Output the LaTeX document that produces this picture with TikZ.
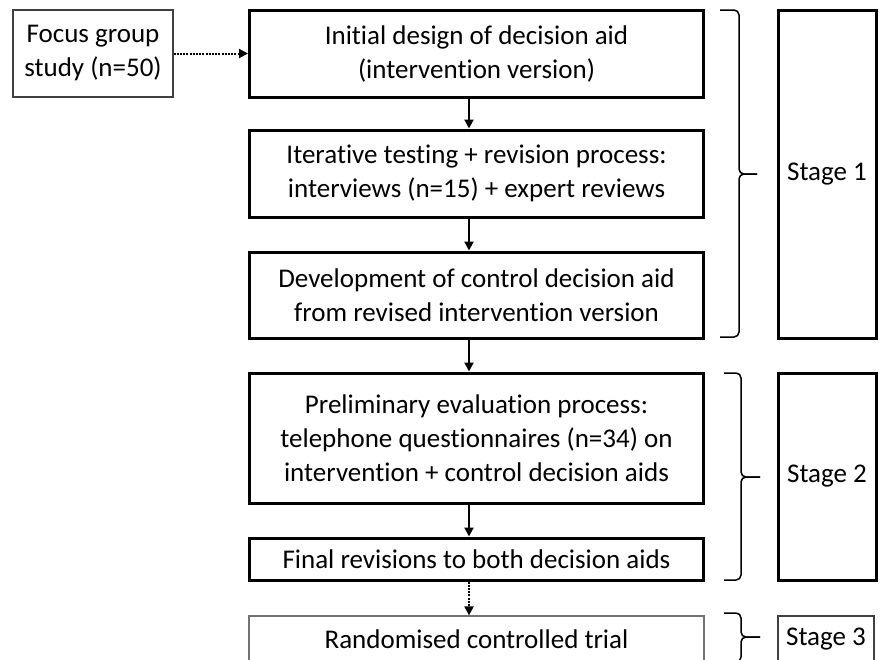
\documentclass[tikz,border=0pt]{standalone}
\usepackage{fontspec}
\setmainfont{Carlito}[Ligatures={NoCommon}]
\usetikzlibrary{arrows.meta}
\begin{document}
\begin{tikzpicture}[x=1pt,y=-1pt,
  txt/.style={font=\fontsize{27}{34}\selectfont, align=center, inner sep=0pt, rectangle},
  thickbox/.style={txt, draw=black, line width=3pt},
  thinbox/.style={txt, draw=black!75, line width=1.2pt},
  flow/.style={line width=2pt, -{Triangle[length=9pt,width=9pt]}},
  dflow/.style={flow, dash pattern=on 2pt off 1.2pt},
  bracepath/.style={line width=1.5pt, rounded corners=5pt},
]
\useasboundingbox (0,0) rectangle (883,659);
\clip (0,0) rectangle (883,659);
\coordinate (ax) at (469,0);

\node[thinbox, minimum width=160pt, minimum height=87pt] (focus) at (93,53.5) {Focus group\\study (n=50)};
\node[thickbox, minimum width=454pt, minimum height=87pt] (b1) at (476.5,53.5) {Initial design of decision aid\\(intervention version)};
\node[thickbox, minimum width=454pt, minimum height=87pt] (b2) at (476.5,173.5) {Iterative testing + revision process:\\interviews (n=15) + expert reviews};
\node[thickbox, minimum width=454pt, minimum height=86pt] (b3) at (476.5,295) {Development of control decision aid\\from revised intervention version};
\node[thickbox, minimum width=454pt, minimum height=130pt] (b4) at (476.5,438) {Preliminary evaluation process:\\telephone questionnaires (n=34) on\\intervention + control decision aids};
\node[thickbox, minimum width=454pt, minimum height=42pt] (b5) at (476.5,559) {Final revisions to both decision aids};
\node[thinbox, draw=black!55, minimum width=455pt, minimum height=46pt] (b6) at (476.5,639) {Randomised controlled trial};

\node[thickbox, minimum width=98pt, minimum height=328pt] (s1) at (827,174) {Stage 1};
\node[thickbox, minimum width=98pt, minimum height=207pt] (s2) at (827,476.5) {Stage 2};
\node[thinbox, minimum width=96pt, minimum height=46pt] (s3) at (826,639) {Stage 3};

\draw[dflow] (focus.east) -- (b1.west);
\draw[flow] (b1.south -| ax) -- (b2.north -| ax);
\draw[flow] (b2.south -| ax) -- (b3.north -| ax);
\draw[flow] (b3.south -| ax) -- (b4.north -| ax);
\draw[flow] (b4.south -| ax) -- (b5.north -| ax);
\draw[dflow] (b5.south -| ax) -- (b6.north -| ax);

\draw[bracepath] (720,10) -- (739,10) -- (739,174) -- (757,174);
\draw[bracepath] (757,174) -- (739,174) -- (739,337) -- (720,337);
\draw[bracepath] (724,373) -- (741,373) -- (741,477) -- (760,477);
\draw[bracepath] (760,477) -- (741,477) -- (741,580) -- (724,580);
\draw[bracepath] (724,613) -- (741,613) -- (741,637) -- (760,637);
\draw[bracepath] (760,637) -- (741,637) -- (741,662) -- (724,662);
\end{tikzpicture}
\end{document}
